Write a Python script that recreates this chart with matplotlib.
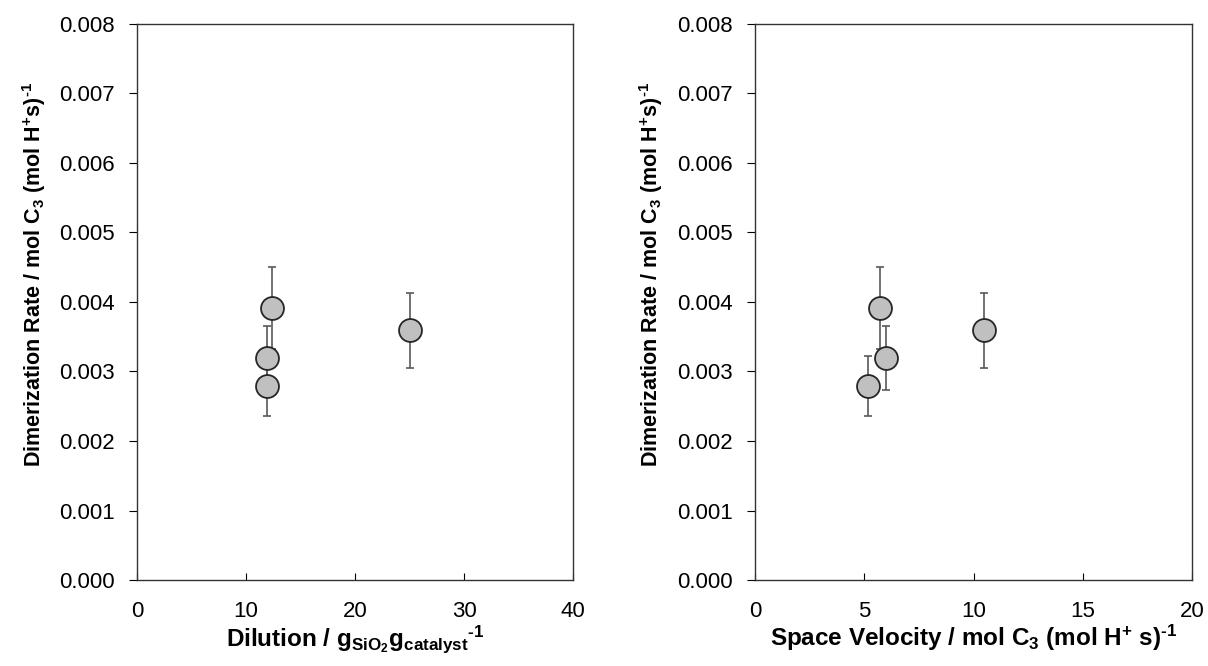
import numpy as np
import matplotlib.pyplot as plt

# data
rate = [0.00391, 0.00320, 0.00279, 0.00359]
rate_err = [0.00059, 0.00046, 0.00043, 0.00054]
dilution = [12.35, 11.93, 11.93, 25.05]
space_velocity = [5.72, 5.98, 5.17, 10.48]

plt.rcParams['font.family'] = ['Liberation Sans', 'DejaVu Sans']
plt.rcParams['mathtext.default'] = 'regular'

fig = plt.figure(figsize=(12.08, 6.66), dpi=100)
ax1 = fig.add_axes([0.1134, 0.1291, 0.361, 0.835])
ax2 = fig.add_axes([0.625, 0.1291, 0.3618, 0.835])

inv = '$^{\u20101}$'  # hyphen-style "-1" as in the original
ylab = 'Dimerization Rate / mol C$_3$ (mol H$^{+}$s)' + inv

for ax, x, xmax, xstep, xlab in [
        (ax1, dilution, 40, 10, 'Dilution / g$_{SiO_2}$g$_{catalyst}$' + inv),
        (ax2, space_velocity, 20, 5, 'Space Velocity / mol C$_3$ (mol H$^{+}$ s)' + inv)]:
    ax.errorbar(x, rate, yerr=rate_err, fmt='none', ecolor='#595959',
                elinewidth=1.2, capsize=2.6, capthick=1.2, zorder=2)
    ax.plot(x, rate, 'o', ms=16.5, mfc='#c0c0c0', mec='#262626', mew=1.3, zorder=3)
    ax.set_xlim(0, xmax)
    ax.set_ylim(0, 0.008)
    ax.set_xticks(np.arange(0, xmax + 1, xstep))
    ax.set_yticks(np.arange(0, 0.0081, 0.001))
    ax.yaxis.set_major_formatter(plt.FormatStrFormatter('%.3f'))
    ax.tick_params(axis='x', direction='in', length=5, labelsize=16, pad=15)
    ax.tick_params(axis='y', direction='out', length=5.8, labelsize=16, pad=10)
    ax.tick_params(top=False, right=False)
    for s in ax.spines.values():
        s.set_linewidth(1.0)
        s.set_color('#333333')
    ax.set_xlabel(xlab, fontsize=17.5, fontweight='bold', labelpad=1)
    ax.set_ylabel(ylab, fontsize=15.5, fontweight='bold')
    ax.yaxis.set_label_coords(-0.205, 0.55)

fig.savefig('out.png', dpi=100)
